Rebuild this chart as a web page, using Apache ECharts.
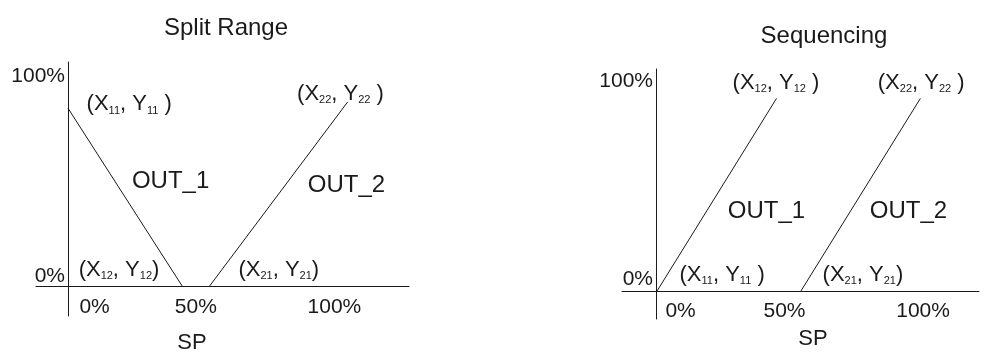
<!DOCTYPE html>
<html>
<head>
<meta charset="utf-8">
<script src="https://cdn.jsdelivr.net/npm/echarts@6/dist/echarts.min.js"></script>
<style>
  html, body { margin: 0; padding: 0; background: #fff; }
  #chart { width: 987px; height: 354px; }
</style>
</head>
<body>
<div id="chart"></div>
<script>
// line end points, [SP, OUT]
const splitOut1 = [[0, 85], [43, 0]];
const splitOut2 = [[53, 0], [105, 88]];
const seqOut1 = [[0, 0], [45, 92]];
const seqOut2 = [[54, 0], [99, 92]];

// tick labels and where they sit on the axes
const xTickText = ['0%', '50%', '100%'];
const splitXTickAt = [10, 48, 100];
const seqXTickAt = [9, 48, 100];
const yTickText = ['0%', '100%'];
const splitYTickAt = [5, 100];
const seqYTickAt = [6, 100];

// text notes: [text, SP, OUT]
const splitNotes = [
  ['(X11, Y11 )', 7, 87],
  ['OUT_1', 24, 50],
  ['(X22, Y22 )', 86, 92],
  ['OUT_2', 90, 48],
  ['(X12, Y12)', 4, 8],
  ['(X21, Y21)', 64, 8],
];
const seqNotes = [
  ['(X12, Y12 )', 28.5, 99.5],
  ['(X22, Y22 )', 83, 99.5],
  ['OUT_1', 26.7, 38],
  ['OUT_2', 80, 38],
  ['(X11, Y11 )', 8.6, 8],
  ['(X21, Y21)', 62.3, 8],
];

const titles = ['Split Range', 'Sequencing'];
const axisTitle = 'SP';

const FONT = 'Liberation Sans';
const INK = '#1a1a1a';

const chart = echarts.init(document.getElementById('chart'), null, { renderer: 'canvas' });

// labels stay at the grid edge, so the margins pull them back to the zero lines
function xAxisOf(idx, min, max, spots, margin) {
  return {
    type: 'value', gridIndex: idx, min: min, max: max,
    splitLine: { show: false },
    axisTick: { show: false },
    axisLine: { onZero: true, lineStyle: { color: INK, width: 1 } },
    axisLabel: {
      customValues: spots,
      margin: margin,
      color: INK, fontFamily: FONT, fontSize: 21,
      formatter: v => xTickText[spots.indexOf(v)],
    },
  };
}

function yAxisOf(idx, min, max, spots, margin) {
  return {
    type: 'value', gridIndex: idx, min: min, max: max,
    splitLine: { show: false },
    axisTick: { show: false },
    axisLine: { onZero: true, lineStyle: { color: INK, width: 1 } },
    axisLabel: {
      customValues: spots,
      margin: margin,
      color: INK, fontFamily: FONT, fontSize: 21,
      formatter: v => yTickText[spots.indexOf(v)],
    },
  };
}

function lineOf(idx, pts) {
  return {
    type: 'line', xAxisIndex: idx, yAxisIndex: idx,
    data: pts, symbol: 'none', silent: true,
    lineStyle: { color: INK, width: 1 },
  };
}

function notesOf(idx, notes) {
  return {
    type: 'scatter', xAxisIndex: idx, yAxisIndex: idx,
    symbolSize: 0, silent: true,
    itemStyle: { opacity: 1, color: INK },
    data: notes.map(n => ({ value: [n[1], n[2]], name: n[0] })),
    label: {
      show: true, position: 'right', distance: 0, opacity: 1,
      formatter: p => p.name.startsWith('OUT')
        ? '{o|' + p.name + '}'
        : p.name.replace(/([XY])(\d\d)/g, '$1{s|$2}'),
      color: INK, fontFamily: FONT, fontSize: 22, lineHeight: 24,
      rich: {
        s: { fontSize: 11, lineHeight: 11, verticalAlign: 'bottom', color: INK, fontFamily: FONT },
        o: { fontSize: 24, lineHeight: 26, color: INK, fontFamily: FONT },
      },
    },
  };
}

const textTitle = (text, x, y, size) => ({
  text: text, left: x, top: y, textAlign: 'center',
  textStyle: { color: INK, fontFamily: FONT, fontSize: size, fontWeight: 'normal' },
});

chart.setOption({
  animation: false,
  backgroundColor: '#fff',
  title: [
    textTitle(titles[0], 221, 11, 24),
    textTitle(titles[1], 819, 19, 24),
    textTitle(axisTitle, 187, 327, 22),
    textTitle(axisTitle, 808, 323, 22),
  ],
  grid: [
    { left: 36, width: 373, top: 62, height: 254, containLabel: false, outerBoundsMode: 'none' },
    { left: 622, width: 357, top: 69, height: 250, containLabel: false, outerBoundsMode: 'none' },
  ],
  xAxis: [
    xAxisOf(0, -12, 128, splitXTickAt, -19),
    xAxisOf(1, -13, 121, seqXTickAt, -18),
  ],
  yAxis: [
    yAxisOf(0, -14, 107, splitYTickAt, -29),
    yAxisOf(1, -13, 106, seqYTickAt, -31),
  ],
  series: [
    lineOf(0, splitOut1),
    lineOf(0, splitOut2),
    lineOf(1, seqOut1),
    lineOf(1, seqOut2),
    notesOf(0, splitNotes),
    notesOf(1, seqNotes),
  ],
});
</script>
</body>
</html>
